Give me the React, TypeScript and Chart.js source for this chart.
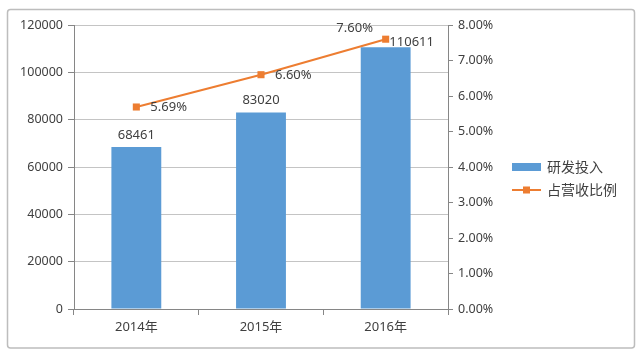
import React, { useEffect, useRef } from "react";
import { Chart, registerables } from "chart.js";

Chart.register(...registerables);

const categories = ["2014年", "2015年", "2016年"];
const rdSpend = [68461, 83020, 110611];
const revenueShare = [5.69, 6.6, 7.6];
const seriesNames = ["研发投入", "占营收比例"];

const BLUE = "#5B9BD5";
const ORANGE = "#ED7D31";
const TEXT = "#404040";
const FONT = "'Noto Sans', 'Noto Sans CJK SC', sans-serif";
const CJK_FONT = "'Noto Sans CJK SC', 'Noto Sans', sans-serif";

// label offsets (pixels) relative to marks, as placed in the original
const barLabelOffset = [
  [0, -12],
  [0, -12],
  [26, -5],
];
const lineLabelOffset = [
  [14, 0, "left"],
  [14, 1, "left"],
  [-31, -11, "center"],
];

const decorPlugin = {
  id: "decor",
  beforeDraw(chart: any) {
    const ctx = chart.ctx;
    ctx.save();
    ctx.fillStyle = "#ffffff";
    ctx.fillRect(0, 0, chart.width, chart.height);
    ctx.strokeStyle = "#bdbdbd";
    ctx.lineWidth = 1.5;
    ctx.beginPath();
    (ctx as any).roundRect(7.5, 9.5, 627, 338.5, 3);
    ctx.stroke();
    ctx.restore();
  },
  afterDatasetsDraw(chart: any) {
    const ctx = chart.ctx;
    ctx.save();
    ctx.fillStyle = TEXT;
    ctx.font = `13px ${FONT}`;
    ctx.textBaseline = "middle";
    const barMeta = chart.getDatasetMeta(0);
    barMeta.data.forEach((el: any, i: number) => {
      const [dx, dy] = barLabelOffset[i];
      ctx.textAlign = "center";
      ctx.fillText(String(rdSpend[i]), el.x + dx, el.y + dy);
    });
    const lineMeta = chart.getDatasetMeta(1);
    lineMeta.data.forEach((el: any, i: number) => {
      const [dx, dy, align] = lineLabelOffset[i] as [number, number, string];
      ctx.textAlign = align as CanvasTextAlign;
      ctx.fillText(revenueShare[i].toFixed(2) + "%", el.x + dx, el.y + dy);
    });

    // legend
    const lx = 512;
    const ly1 = 167;
    const ly2 = 190;
    ctx.fillStyle = BLUE;
    ctx.fillRect(lx, ly1 - 4, 29, 8);
    ctx.strokeStyle = ORANGE;
    ctx.lineWidth = 2;
    ctx.beginPath();
    ctx.moveTo(lx, ly2);
    ctx.lineTo(lx + 29, ly2);
    ctx.stroke();
    ctx.fillStyle = ORANGE;
    ctx.fillRect(lx + 14.5 - 3.5, ly2 - 3.5, 7, 7);
    ctx.fillStyle = TEXT;
    ctx.font = `14px ${CJK_FONT}`;
    ctx.textAlign = "left";
    ctx.fillText(seriesNames[0], lx + 35, ly1);
    ctx.fillText(seriesNames[1], lx + 35, ly2);
    ctx.restore();
  },
};

export default function App() {
  const ref = useRef<HTMLCanvasElement>(null);
  useEffect(() => {
    document.body.style.margin = "0";
    const chart = new Chart(ref.current as HTMLCanvasElement, {
      type: "bar",
      data: {
        labels: categories,
        datasets: [
          {
            type: "bar",
            label: seriesNames[0],
            data: rdSpend,
            backgroundColor: BLUE,
            borderWidth: 0,
            yAxisID: "y",
            order: 1,
            categoryPercentage: 1,
            barPercentage: 0.4,
          } as any,
          {
            type: "line",
            label: seriesNames[1],
            data: revenueShare,
            borderColor: ORANGE,
            backgroundColor: ORANGE,
            borderWidth: 2,
            pointStyle: "rect",
            pointRadius: 5,
            pointBorderWidth: 0,
            yAxisID: "y1",
            order: 0,
          } as any,
        ],
      },
      options: {
        responsive: false,
        animation: false,
        layout: { padding: { top: 25, left: 0, right: 0, bottom: 0 } },
        plugins: {
          legend: { display: false },
          tooltip: { enabled: false },
        },
        scales: {
          x: {
            grid: {
              offset: true,
              drawOnChartArea: false,
              drawTicks: true,
              tickLength: 6,
              tickColor: "#868686",
            },
            border: { display: true, color: "#868686" },
            ticks: {
              color: TEXT,
              font: { family: FONT, size: 13 },
              padding: 4,
            },
            afterFit: (s: any) => {
              s.height = 45;
            },
          },
          y: {
            position: "left",
            min: 0,
            max: 120000,
            grid: {
              color: "#c4c4c4",
              tickLength: 6,
              tickColor: "#868686",
            },
            border: { display: true, color: "#868686" },
            ticks: {
              stepSize: 20000,
              color: TEXT,
              font: { family: FONT, size: 12.5 },
              padding: 5,
              callback: (v: any) => String(v),
            },
            afterFit: (s: any) => {
              s.width = 74;
            },
          },
          y1: {
            position: "right",
            min: 0,
            max: 8,
            grid: {
              drawOnChartArea: false,
              drawTicks: true,
              tickLength: 5,
              tickColor: "#868686",
            },
            border: { display: true, color: "#868686" },
            ticks: {
              stepSize: 1,
              color: TEXT,
              font: { family: FONT, size: 12.5 },
              padding: 5,
              callback: (v: any) => Number(v).toFixed(2) + "%",
            },
            afterFit: (s: any) => {
              s.width = 192;
            },
          },
        },
      } as any,
      plugins: [decorPlugin],
    });
    return () => chart.destroy();
  }, []);
  return <canvas ref={ref} width={640} height={354} style={{ display: "block" }} />;
}
